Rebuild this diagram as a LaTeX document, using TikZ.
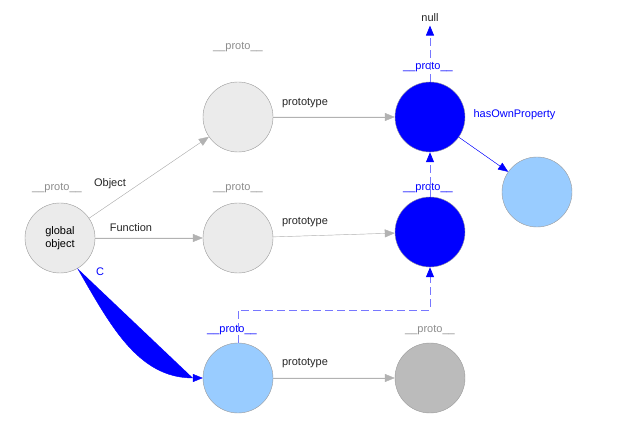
\documentclass[tikz,border=0pt]{standalone}
\usepackage{fontspec}
\setmainfont{Liberation Sans}
\usetikzlibrary{arrows.meta}
\definecolor{lgray}{HTML}{EBEBEB}
\definecolor{lblue}{HTML}{99CCFF}
\definecolor{dgray}{HTML}{BBBBBB}
\definecolor{dash}{HTML}{7777FF}
\begin{document}
\begin{tikzpicture}[x=1pt,y=-1pt,font=\fontsize{11}{13}\selectfont,
  obj/.style={circle,draw=gray!80,minimum size=70pt,inner sep=0pt,align=center},
  gedge/.style={draw=black!30,-{Triangle[length=10pt,width=8pt]},fill=black!30},
  bedge/.style={draw=blue,-{Triangle[length=10pt,width=8pt]},fill=blue},
  dedge/.style={draw=dash,dash pattern=on 8pt off 4pt,thick,-{Triangle[length=10pt,width=8pt,color=blue,fill=blue]}},
  glab/.style={text=black!45},
  blab/.style={text=blue},
  tlab/.style={text=black!85}]
\useasboundingbox (0,0) rectangle (640,427);
\node[obj,fill=lgray] (G) at (60,238) {global\\object};
\node[obj,fill=lgray] (A) at (238,117) {};
\node[obj,fill=lgray] (B) at (238,238) {};
\node[obj,fill=lblue] (C) at (238,378) {};
\node[obj,fill=blue] (D) at (430,117) {};
\node[obj,fill=blue] (E) at (430,232) {};
\node[obj,fill=lblue] (F) at (537,192) {};
\node[obj,fill=dgray] (H) at (430,378) {};
\node[tlab] (nul) at (430,18) {null};
\node[glab] (pg) at (57,188) {\_\_proto\_\_};
\node[glab] (pa) at (238,47) {\_\_proto\_\_};
\node[glab] (pb) at (238,188) {\_\_proto\_\_};
\node[glab] (ph) at (430,330) {\_\_proto\_\_};
\node[blab] (pd) at (428,67) {\_\_proto\_\_};
\node[blab] (pe) at (428,188) {\_\_proto\_\_};
\node[blab] (pc) at (232,330) {\_\_proto\_\_};
\draw[gedge] (G) -- (A);
\node[tlab] (lo) at (110,184) {Object};
\draw[gedge] (G) -- (B);
\node[tlab] (lf) at (131,228) {Function};
\draw[bedge] (G) to[out=-60,in=180] (C);
\node[blab] (lc) at (100,272) {C};
\draw[gedge] (A) -- (D);
\draw[gedge] (B) -- (E);
\draw[gedge] (C) -- (H);
\node[tlab] (l1) at (305,103) {prototype};
\node[tlab] (l2) at (305,222) {prototype};
\node[tlab] (l3) at (305,363) {prototype};
\draw[bedge] (D) -- (F);
\node[blab,anchor=west] (lh) at (470,115) {hasOwnProperty};
\draw[dedge] (D) -- (nul);
\draw[dedge] (E) -- (D);
\coordinate (c1) at (238,310);
\coordinate (c2) at (430,310);
\draw[dedge] (C.north) -- (c1) -- (c2) -- (E);
\end{tikzpicture}
\end{document}
